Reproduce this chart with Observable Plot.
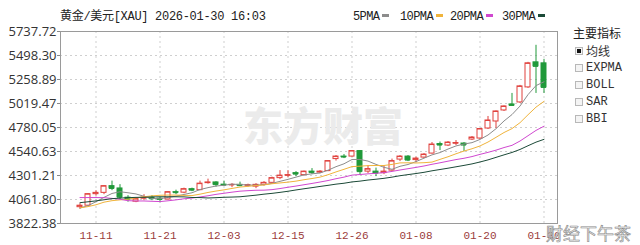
<!DOCTYPE html>
<html><head><meta charset="utf-8">
<script src="https://cdn.jsdelivr.net/npm/d3@7"></script>
<script src="https://cdn.jsdelivr.net/npm/@observablehq/plot@0.6"></script>
<style>
body{margin:0;background:#fff;}
#wrap{position:relative;width:640px;height:245px;overflow:hidden;background:#fff;}
#wrap svg{position:absolute;left:0;top:0;}
.t{position:absolute;white-space:nowrap;line-height:12px;color:#222;}
.mono{font-family:"Liberation Mono","Noto Sans CJK SC",monospace;font-size:12px;}
.cjk{font-family:"Noto Sans CJK SC",sans-serif;font-size:12px;}
.dash{display:inline-block;width:7px;height:3px;vertical-align:middle;margin-left:3px;margin-top:-2px;}
.cb{position:absolute;width:6px;height:6px;border:1px solid #b8b8b8;background:#f4f4f4;}
.cb.on::after{content:"";position:absolute;left:1px;top:1px;width:4px;height:4px;background:#111;}
</style></head><body><div id="wrap"></div>
<script>
const dates = ["11-07","11-10","11-11","11-12","11-13","11-14","11-17","11-18","11-19","11-20","11-21","11-24","11-25","11-26","11-27","11-28","12-01","12-02","12-03","12-04","12-05","12-08","12-09","12-10","12-11","12-12","12-15","12-16","12-17","12-18","12-19","12-22","12-23","12-24","12-26","12-29","12-30","12-31","01-02","01-05","01-06","01-07","01-08","01-09","01-12","01-13","01-14","01-15","01-16","01-19","01-20","01-21","01-22","01-23","01-26","01-27","01-28","01-29","01-30"];
const open  = [3985,4000,4115,4128,4195,4172,4080,4040,4070,4080,4070,4062,4135,4130,4165,4155,4225,4232,4210,4205,4208,4200,4190,4208,4228,4275,4300,4325,4305,4340,4330,4345,4465,4490,4490,4545,4340,4340,4325,4350,4460,4490,4455,4480,4520,4615,4600,4620,4620,4660,4670,4770,4840,4950,5010,5030,5180,5430,5420];
const high  = [4020,4120,4150,4200,4245,4210,4100,4075,4110,4100,4080,4140,4155,4175,4175,4245,4265,4240,4245,4220,4235,4215,4220,4240,4285,4350,4350,4340,4345,4370,4350,4450,4500,4510,4550,4550,4400,4375,4400,4465,4500,4500,4485,4520,4630,4635,4640,4650,4630,4690,4770,4890,4945,4995,5120,5200,5430,5600,5460];
const low   = [3965,3995,4095,4110,4150,4060,4035,4030,4050,4050,4030,4055,4110,4120,4140,4150,4215,4185,4195,4180,4190,4185,4170,4195,4215,4260,4280,4290,4295,4310,4320,4340,4445,4470,4485,4305,4320,4290,4310,4345,4440,4440,4430,4470,4515,4550,4590,4600,4540,4650,4660,4760,4770,4940,4990,5020,5170,5120,5120];
const close = [4000,4115,4128,4195,4172,4085,4065,4066,4080,4070,4062,4135,4130,4165,4155,4220,4232,4210,4205,4208,4200,4205,4208,4228,4275,4300,4305,4315,4340,4330,4340,4445,4490,4485,4545,4340,4365,4325,4340,4445,4490,4455,4470,4510,4610,4605,4630,4625,4605,4680,4765,4850,4940,4990,5000,5190,5420,5390,5180];
const ma5  = [3977,4000,4040,4083,4122,4139,4129,4117,4094,4073,4069,4083,4095,4112,4129,4161,4180,4196,4204,4215,4211,4206,4205,4210,4223,4243,4263,4285,4307,4318,4326,4354,4389,4418,4461,4461,4445,4412,4383,4363,4393,4411,4440,4474,4507,4530,4565,4596,4615,4629,4661,4705,4768,4845,4909,4994,5108,5198,5236];
const ma10 = [3978,3991,4009,4035,4050,4058,4065,4079,4089,4098,4104,4106,4106,4103,4101,4115,4132,4146,4158,4172,4186,4193,4201,4207,4219,4227,4235,4245,4259,4271,4285,4309,4337,4363,4390,4394,4400,4401,4401,4412,4427,4428,4426,4429,4435,4462,4488,4518,4545,4568,4596,4635,4682,4730,4769,4828,4907,4983,5041];
const ma20 = [4081,4081,4081,4080,4073,4064,4050,4047,4047,4044,4041,4049,4058,4069,4076,4087,4099,4113,4124,4135,4145,4150,4154,4155,4160,4171,4184,4196,4209,4222,4236,4251,4269,4285,4305,4311,4318,4323,4330,4342,4356,4369,4382,4396,4413,4428,4444,4460,4473,4490,4512,4532,4554,4580,4602,4645,4698,4751,4793];
const ma30 = [4030,4039,4048,4059,4070,4076,4080,4083,4084,4087,4089,4089,4089,4088,4082,4081,4077,4080,4084,4086,4089,4097,4105,4115,4123,4133,4144,4157,4169,4180,4192,4203,4215,4224,4237,4245,4256,4264,4273,4285,4299,4310,4321,4333,4348,4361,4374,4388,4402,4417,4436,4457,4482,4507,4531,4561,4598,4634,4662];
const xTickLabels = ["11-11","11-21","12-03","12-15","12-26","01-08","01-20","01-30"];
const yTickLabels = ["3822.38","4061.80","4301.21","4540.63","4780.05","5019.47","5258.89","5498.30","5737.72"];
const maNames = ["5PMA","10PMA","20PMA","30PMA"];
const maColors = ["#8c8c8c","#f0b43c","#d048d0","#1c4a38"];
const titleText = "黄金/美元[XAU] 2026-01-30 16:03";
const panelTitle = "主要指标";
const panelItems = ["均线","EXPMA","BOLL","SAR","BBI"];
const watermark = "东方财富";
const cornerMark = "财经下午茶";

const RED = "#e0403c", GREEN = "#20993a";
const yTicks = yTickLabels.map(Number);
const candles = dates.map((d, i) => ({date: d, open: open[i], high: high[i], low: low[i], close: close[i], up: close[i] >= open[i]}));
const maSeries = [ma5, ma10, ma20, ma30];

const chart = Plot.plot({
  width: 640, height: 245,
  marginLeft: 60, marginRight: 83, marginTop: 31, marginBottom: 22,
  style: {fontFamily: "'Open Sans', sans-serif", fontSize: "13px", color: "#333", background: "transparent"},
  x: {type: "band", domain: dates, paddingInner: 0.4, paddingOuter: 1.04, align: 0.62, axis: null, label: null},
  y: {domain: [yTicks[0], yTicks[yTicks.length - 1]], axis: null, label: null},
  marks: [
    Plot.gridY(yTicks.slice(1, -1), {stroke: "#cfcfcf", strokeOpacity: 1, strokeDasharray: "2,3"}),
    Plot.gridX(xTickLabels, {stroke: "#cfcfcf", strokeOpacity: 1, strokeDasharray: "2,3"}),
    Plot.text([watermark], {text: d => d, frameAnchor: "middle", dx: 14, dy: 1, fontSize: 40, fontWeight: 900, fill: "#ebebeb", fontFamily: "Noto Sans CJK SC"}),
    Plot.ruleX(candles, {x: "date", y1: "low", y2: "high", stroke: d => d.up ? RED : GREEN, strokeWidth: 1}),
    Plot.barY(candles, {x: "date", y1: "open", y2: "close", fill: d => d.up ? "#fff" : GREEN, stroke: d => d.up ? RED : GREEN, strokeWidth: 1}),
    Plot.tickY(candles, {x: "date", y: "close", stroke: d => d.up ? RED : GREEN, strokeWidth: 1}),
    ...maSeries.map((s, k) => Plot.lineY(s.map((v, i) => ({date: dates[i], v})), {x: "date", y: "v", stroke: maColors[k], strokeWidth: 1})),
    Plot.frame({stroke: "#9a9a9a"}),
    Plot.axisY({ticks: yTicks, tickFormat: d => d.toFixed(2), tickSize: 3, tickPadding: 1, stroke: "#888", fill: "#333", label: null}),
    Plot.axisX({ticks: xTickLabels, tickSize: 0, tickPadding: 8, fill: "#9b3b3b", fontFamily: "Liberation Mono", fontSize: 11, label: null})
  ]
});

const wrap = document.getElementById("wrap");
wrap.appendChild(chart);

function addDiv(cls, text, left, top, extra) {
  const d = document.createElement("div");
  d.className = "t " + cls;
  d.textContent = text;
  d.style.left = left + "px";
  d.style.top = top + "px";
  if (extra) Object.assign(d.style, extra);
  wrap.appendChild(d);
  return d;
}
addDiv("mono", titleText, 60, 11, {letterSpacing: "-0.3px"});
const legendLeft = [353, 400, 450, 502];
maNames.forEach((n, k) => {
  const d = addDiv("mono", n, legendLeft[k], 11, {letterSpacing: "-0.6px"});
  const s = document.createElement("span");
  s.className = "dash";
  s.style.background = maColors[k];
  d.appendChild(s);
});
addDiv("cjk", panelTitle, 573, 27);
panelItems.forEach((n, k) => {
  const top = 45 + k * 17;
  const cb = document.createElement("div");
  cb.className = "cb" + (k === 0 ? " on" : "");
  cb.style.left = "575px";
  cb.style.top = (top + 2) + "px";
  wrap.appendChild(cb);
  addDiv(k === 0 ? "cjk" : "mono", n, 586, top, {color: "#333"});
});
addDiv("cjk", cornerMark, 546, 224, {fontSize: "17px", lineHeight: "18px", color: "#ececec", webkitTextStroke: "0.6px #8a8a8a"});
</script></body></html>
